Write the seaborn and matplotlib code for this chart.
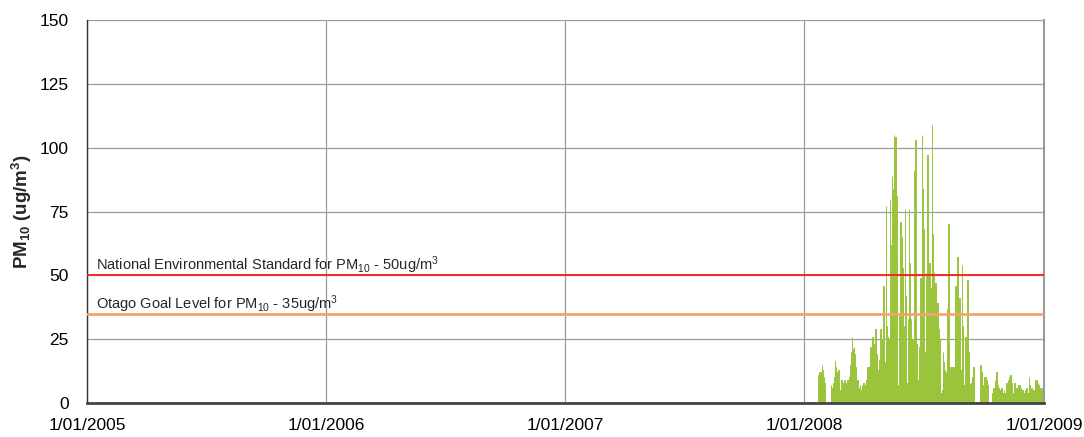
import numpy as np
import pandas as pd
import matplotlib.pyplot as plt
import seaborn as sns

sns.set_style("white")
plt.rcParams["font.family"] = ["Liberation Sans", "DejaVu Sans"]
plt.rcParams["mathtext.fontset"] = "custom"
plt.rcParams["mathtext.rm"] = "Liberation Sans"
plt.rcParams["mathtext.it"] = "Liberation Sans:italic"
plt.rcParams["mathtext.bf"] = "Liberation Sans:bold"

# daily PM10 (ug/m3), one list per run of days with data
seg1_start = "2008-01-22"
seg1 = [10, 11, 12, 12, 11, 12, 15, 13, 10, 9, 8]

seg2_start = "2008-02-11"
seg2 = [7, 5, 6, 4, 8, 10, 17, 14, 12, 12, 11, 13, 6, 4, 5, 7, 9, 8,
        5, 7, 9, 7, 6, 8, 8, 9, 8, 9, 10, 11, 15, 20, 26, 19, 21, 22,
        19, 14, 12, 7, 9, 8, 6, 5, 7, 4, 5, 7, 6, 8, 5, 6, 7, 9,
        9, 12, 14, 14, 11, 14, 22, 16, 13, 26, 20, 17, 23, 27, 29, 19, 15, 13,
        6, 9, 17, 29, 12, 6, 25, 35, 46, 16, 8, 5, 77, 30, 26, 25, 20, 25]

seg3_start = "2008-05-11"
seg3 = [80, 62, 31, 89, 70, 84, 105, 96, 104, 88,
        81, 7, 5, 4, 34, 28, 71, 65, 58, 53,
        40, 30, 14, 76, 42, 8, 8, 6, 33, 76,
        55, 33, 25, 21, 25, 22, 18, 91, 74, 103,
        23, 17, 9, 9, 11, 22, 49, 38, 47, 105,
        84, 68, 20, 18, 20, 51, 44, 97, 61, 52,
        55, 45, 38, 45, 109, 66, 51, 36, 27, 47,
        41, 39, 39, 33, 29, 25, 15, 4, 4, 3,
        5, 20, 16, 13, 12, 10, 12, 37, 30, 70,
        14, 12, 14, 12, 11, 14, 13, 14, 14, 12,
        46, 31, 26, 57, 21, 18, 41, 13, 10, 13,
        54, 30, 7, 7, 5, 26, 26, 20, 48, 25,
        20, 4, 8, 6, 8, 9, 10, 14, 12]

seg4_start = "2008-09-26"
seg4 = [15, 14, 12, 7, 5, 6, 10, 8, 10, 9, 8, 7]

seg5_start = "2008-10-14"
seg5 = [4, 5, 6, 5, 9, 8, 12, 10, 7, 6, 6, 5, 4, 5, 6, 5, 4, 4, 5, 4,
        3, 5, 8, 7, 9, 8, 10, 9, 11, 8, 6, 4, 2, 5, 8, 6, 4, 5, 5, 6,
        7, 6, 7, 6, 5, 4, 5, 5, 4, 3, 4, 5, 6, 5, 4, 4, 10, 7, 3, 4,
        6, 5, 5, 4, 5, 6, 9, 8, 9, 7, 8, 7, 6, 5, 6, 5, 6]

year_dates = ["2005-01-01", "2006-01-01", "2007-01-01", "2008-01-01", "2009-01-01"]
year_labels = ["1/01/2005", "1/01/2006", "1/01/2007", "1/01/2008", "1/01/2009"]

origin = pd.Timestamp("2005-01-01")
frames = []
for start, vals in [(seg1_start, seg1), (seg2_start, seg2), (seg3_start, seg3),
                    (seg4_start, seg4), (seg5_start, seg5)]:
    dates = pd.date_range(start, periods=len(vals), freq="D")
    frames.append(pd.DataFrame({"date": dates, "pm10": vals}))
df = pd.concat(frames, ignore_index=True)
df["day"] = (df["date"] - origin).dt.days

fig = plt.figure(figsize=(10.84, 4.37), dpi=100)
ax = fig.add_axes([87 / 1084, 1 - 403 / 437, (1044 - 87) / 1084, (403 - 20) / 437])

green = "#9AC43C"
sns.histplot(data=df, x="day", weights="pm10", discrete=True, shrink=1,
             color=green, edgecolor=green, linewidth=0.7, alpha=1, ax=ax)

ax.axhline(50, color="#FF1A1A", lw=1.3, zorder=3)
ax.axhline(35, color="#F5A273", lw=2.0, zorder=3)
ax.text(14, 52.0, r"National Environmental Standard for PM$_{10}$ - 50ug/m$^{3}$",
        fontsize=10.5, va="baseline", ha="left")
ax.text(14, 37.0, r"Otago Goal Level for PM$_{10}$ - 35ug/m$^{3}$",
        fontsize=10.5, va="baseline", ha="left")

year_pos = [(pd.Timestamp(d) - origin).days for d in year_dates]
month_pos = [(d - origin).days for d in pd.date_range("2005-01-01", "2009-01-01", freq="MS")]
ax.set_xlim(year_pos[0], year_pos[-1])
ax.set_ylim(0, 150)
ax.set_xticks(year_pos)
ax.set_xticklabels(year_labels)
ax.set_xticks(month_pos, minor=True)
ax.set_yticks(np.arange(0, 151, 25))
ax.set_yticks(np.arange(0, 151, 5), minor=True)

ax.set_axisbelow(True)
ax.grid(True, which="major", color="#9A9A9A", lw=0.9)
ax.tick_params(axis="both", which="both", direction="out", colors="#333333",
               labelcolor="black", labelsize=12.5)
ax.tick_params(axis="y", which="major", length=5, width=1, pad=8)
ax.tick_params(axis="y", which="minor", length=3, width=0.8)
ax.tick_params(axis="x", which="major", length=5, width=1, pad=6)
ax.tick_params(axis="x", which="minor", length=4, width=0.8)

ax.spines["top"].set_visible(False)
ax.spines["right"].set_color("#9A9A9A")
ax.spines["right"].set_linewidth(1.5)
ax.spines["left"].set_color("#333333")
ax.spines["left"].set_linewidth(1)
ax.spines["bottom"].set_color("#444444")
ax.spines["bottom"].set_linewidth(2)

ax.set_xlabel("")
ax.set_ylabel(r"$\mathbf{PM_{10}}$ $\mathbf{(ug/m^{3})}$", fontsize=13.5, labelpad=4)

fig.savefig("out.png", dpi=100)
